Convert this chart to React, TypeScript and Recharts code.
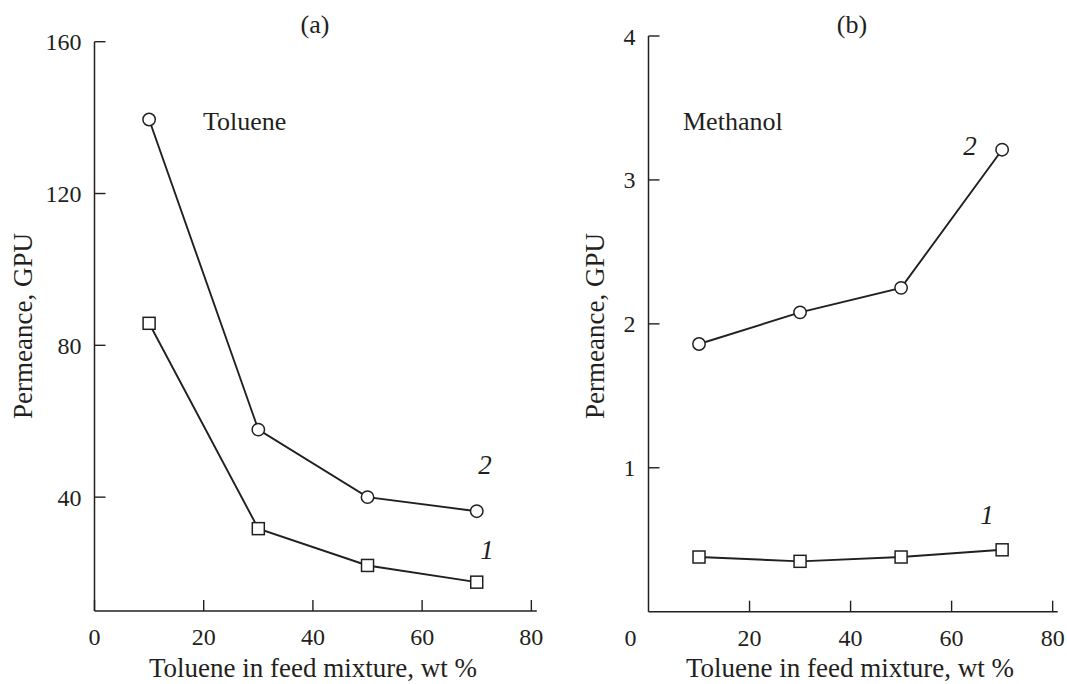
import { LineChart, Line, XAxis, YAxis } from 'recharts';

// feed composition, wt % toluene
const feed = [10, 30, 50, 70];

// (a) toluene permeance, GPU
const tolueneCurve1 = [85.8, 31.7, 22.0, 17.6];
const tolueneCurve2 = [139.5, 57.8, 40.0, 36.3];

// (b) methanol permeance, GPU
const methanolCurve1 = [0.38, 0.35, 0.38, 0.43];
const methanolCurve2 = [1.86, 2.08, 2.25, 3.21];

const xTicksA = [0, 20, 40, 60, 80];
const xTicksB = [20, 40, 60, 80];
const yTicksA = [40, 80, 120, 160];
const yTicksB = [0, 1, 2, 3, 4];

const dataA = feed.map((x, i) => ({ x, c1: tolueneCurve1[i], c2: tolueneCurve2[i] }));
const dataB = feed.map((x, i) => ({ x, c1: methanolCurve1[i], c2: methanolCurve2[i] }));

const INK = '#231f20';
const FONT = '"Liberation Serif", "Times New Roman", serif';

const XTick = (props: any) => {
  const { x, y, payload } = props;
  return (
    <g>
      <line x1={x} y1={y} x2={x} y2={y - 11} stroke={INK} strokeWidth={1.4} />
      <text x={x} y={y + 34} textAnchor="middle" fontFamily={FONT} fontSize={24} fill={INK}>
        {payload.value}
      </text>
    </g>
  );
};

const YTick = (props: any) => {
  const { x, y, payload } = props;
  if (payload.value === 0) {
    // zero of panel (b) sits under the corner, in the x label row
    return (
      <text x={x - 18} y={y + 34} textAnchor="middle" fontFamily={FONT} fontSize={24} fill={INK}>
        0
      </text>
    );
  }
  return (
    <g>
      <line x1={x} y1={y} x2={x + 11} y2={y} stroke={INK} strokeWidth={1.4} />
      <text x={x - 13} y={y + 8.5} textAnchor="end" fontFamily={FONT} fontSize={24} fill={INK}>
        {payload.value}
      </text>
    </g>
  );
};

const circleDot = (props: any) => (
  <circle key={`c-${props.index}`} cx={props.cx} cy={props.cy} r={6.2} fill="#fff" stroke={INK} strokeWidth={1.5} />
);

const squareDot = (props: any) => (
  <rect key={`s-${props.index}`} x={props.cx - 6} y={props.cy - 6} width={12} height={12} fill="#fff" stroke={INK} strokeWidth={1.5} />
);

const txt = { fontFamily: FONT, fill: INK };

export default function App() {
  return (
    <div style={{ position: 'absolute', left: 0, top: 0, width: 1067, height: 684, background: '#fff' }}>
      <div style={{ position: 'absolute', left: 0, top: 0 }}>
        <LineChart width={560} height={684} data={dataA} margin={{ top: 41.7, right: 23.2, bottom: 43, left: 34.5 }}>
          <XAxis
            type="number"
            dataKey="x"
            domain={[0, 81]}
            ticks={xTicksA}
            height={30}
            tickSize={0}
            tickMargin={0}
            tickLine={false}
            tick={<XTick />}
            axisLine={{ stroke: INK, strokeWidth: 1.5 }}
            interval={0}
          />
          <YAxis
            type="number"
            domain={[10, 160]}
            ticks={yTicksA}
            width={60}
            tickSize={0}
            tickMargin={0}
            tickLine={false}
            tick={<YTick />}
            axisLine={{ stroke: INK, strokeWidth: 1.5 }}
            interval={0}
          />
          <Line type="linear" dataKey="c2" stroke={INK} strokeWidth={1.9} dot={circleDot} isAnimationActive={false} />
          <Line type="linear" dataKey="c1" stroke={INK} strokeWidth={1.9} dot={squareDot} isAnimationActive={false} />
          <text x={315} y={33} textAnchor="middle" fontSize={26} {...txt}>(a)</text>
          <text x={203} y={130} fontSize={26} {...txt}>Toluene</text>
          <text x={485} y={474} textAnchor="middle" fontSize={27} fontStyle="italic" {...txt}>2</text>
          <text x={487} y={559} textAnchor="middle" fontSize={27} fontStyle="italic" {...txt}>1</text>
          <text x={32} y={326} textAnchor="middle" fontSize={27} transform="rotate(-90 32 326)" {...txt}>
            Permeance, GPU
          </text>
          <text x={313} y={677} textAnchor="middle" fontSize={27} {...txt}>
            Toluene in feed mixture, wt %
          </text>
        </LineChart>
      </div>
      <div style={{ position: 'absolute', left: 560, top: 0 }}>
        <LineChart width={507} height={684} data={dataB} margin={{ top: 36, right: 9.3, bottom: 42.3, left: 28.5 }}>
          <XAxis
            type="number"
            dataKey="x"
            domain={[0, 81]}
            ticks={xTicksB}
            height={30}
            tickSize={0}
            tickMargin={0}
            tickLine={false}
            tick={<XTick />}
            axisLine={{ stroke: INK, strokeWidth: 1.5 }}
            interval={0}
          />
          <YAxis
            type="number"
            domain={[0, 4]}
            ticks={yTicksB}
            width={60}
            tickSize={0}
            tickMargin={0}
            tickLine={false}
            tick={<YTick />}
            axisLine={{ stroke: INK, strokeWidth: 1.5 }}
            interval={0}
          />
          <Line type="linear" dataKey="c2" stroke={INK} strokeWidth={1.9} dot={circleDot} isAnimationActive={false} />
          <Line type="linear" dataKey="c1" stroke={INK} strokeWidth={1.9} dot={squareDot} isAnimationActive={false} />
          <text x={292} y={33} textAnchor="middle" fontSize={26} {...txt}>(b)</text>
          <text x={123} y={130} fontSize={26} {...txt}>Methanol</text>
          <text x={410} y={155} textAnchor="middle" fontSize={27} fontStyle="italic" {...txt}>2</text>
          <text x={427} y={524} textAnchor="middle" fontSize={27} fontStyle="italic" {...txt}>1</text>
          <text x={44} y={326} textAnchor="middle" fontSize={27} transform="rotate(-90 44 326)" {...txt}>
            Permeance, GPU
          </text>
          <text x={290} y={677} textAnchor="middle" fontSize={27} {...txt}>
            Toluene in feed mixture, wt %
          </text>
        </LineChart>
      </div>
    </div>
  );
}
